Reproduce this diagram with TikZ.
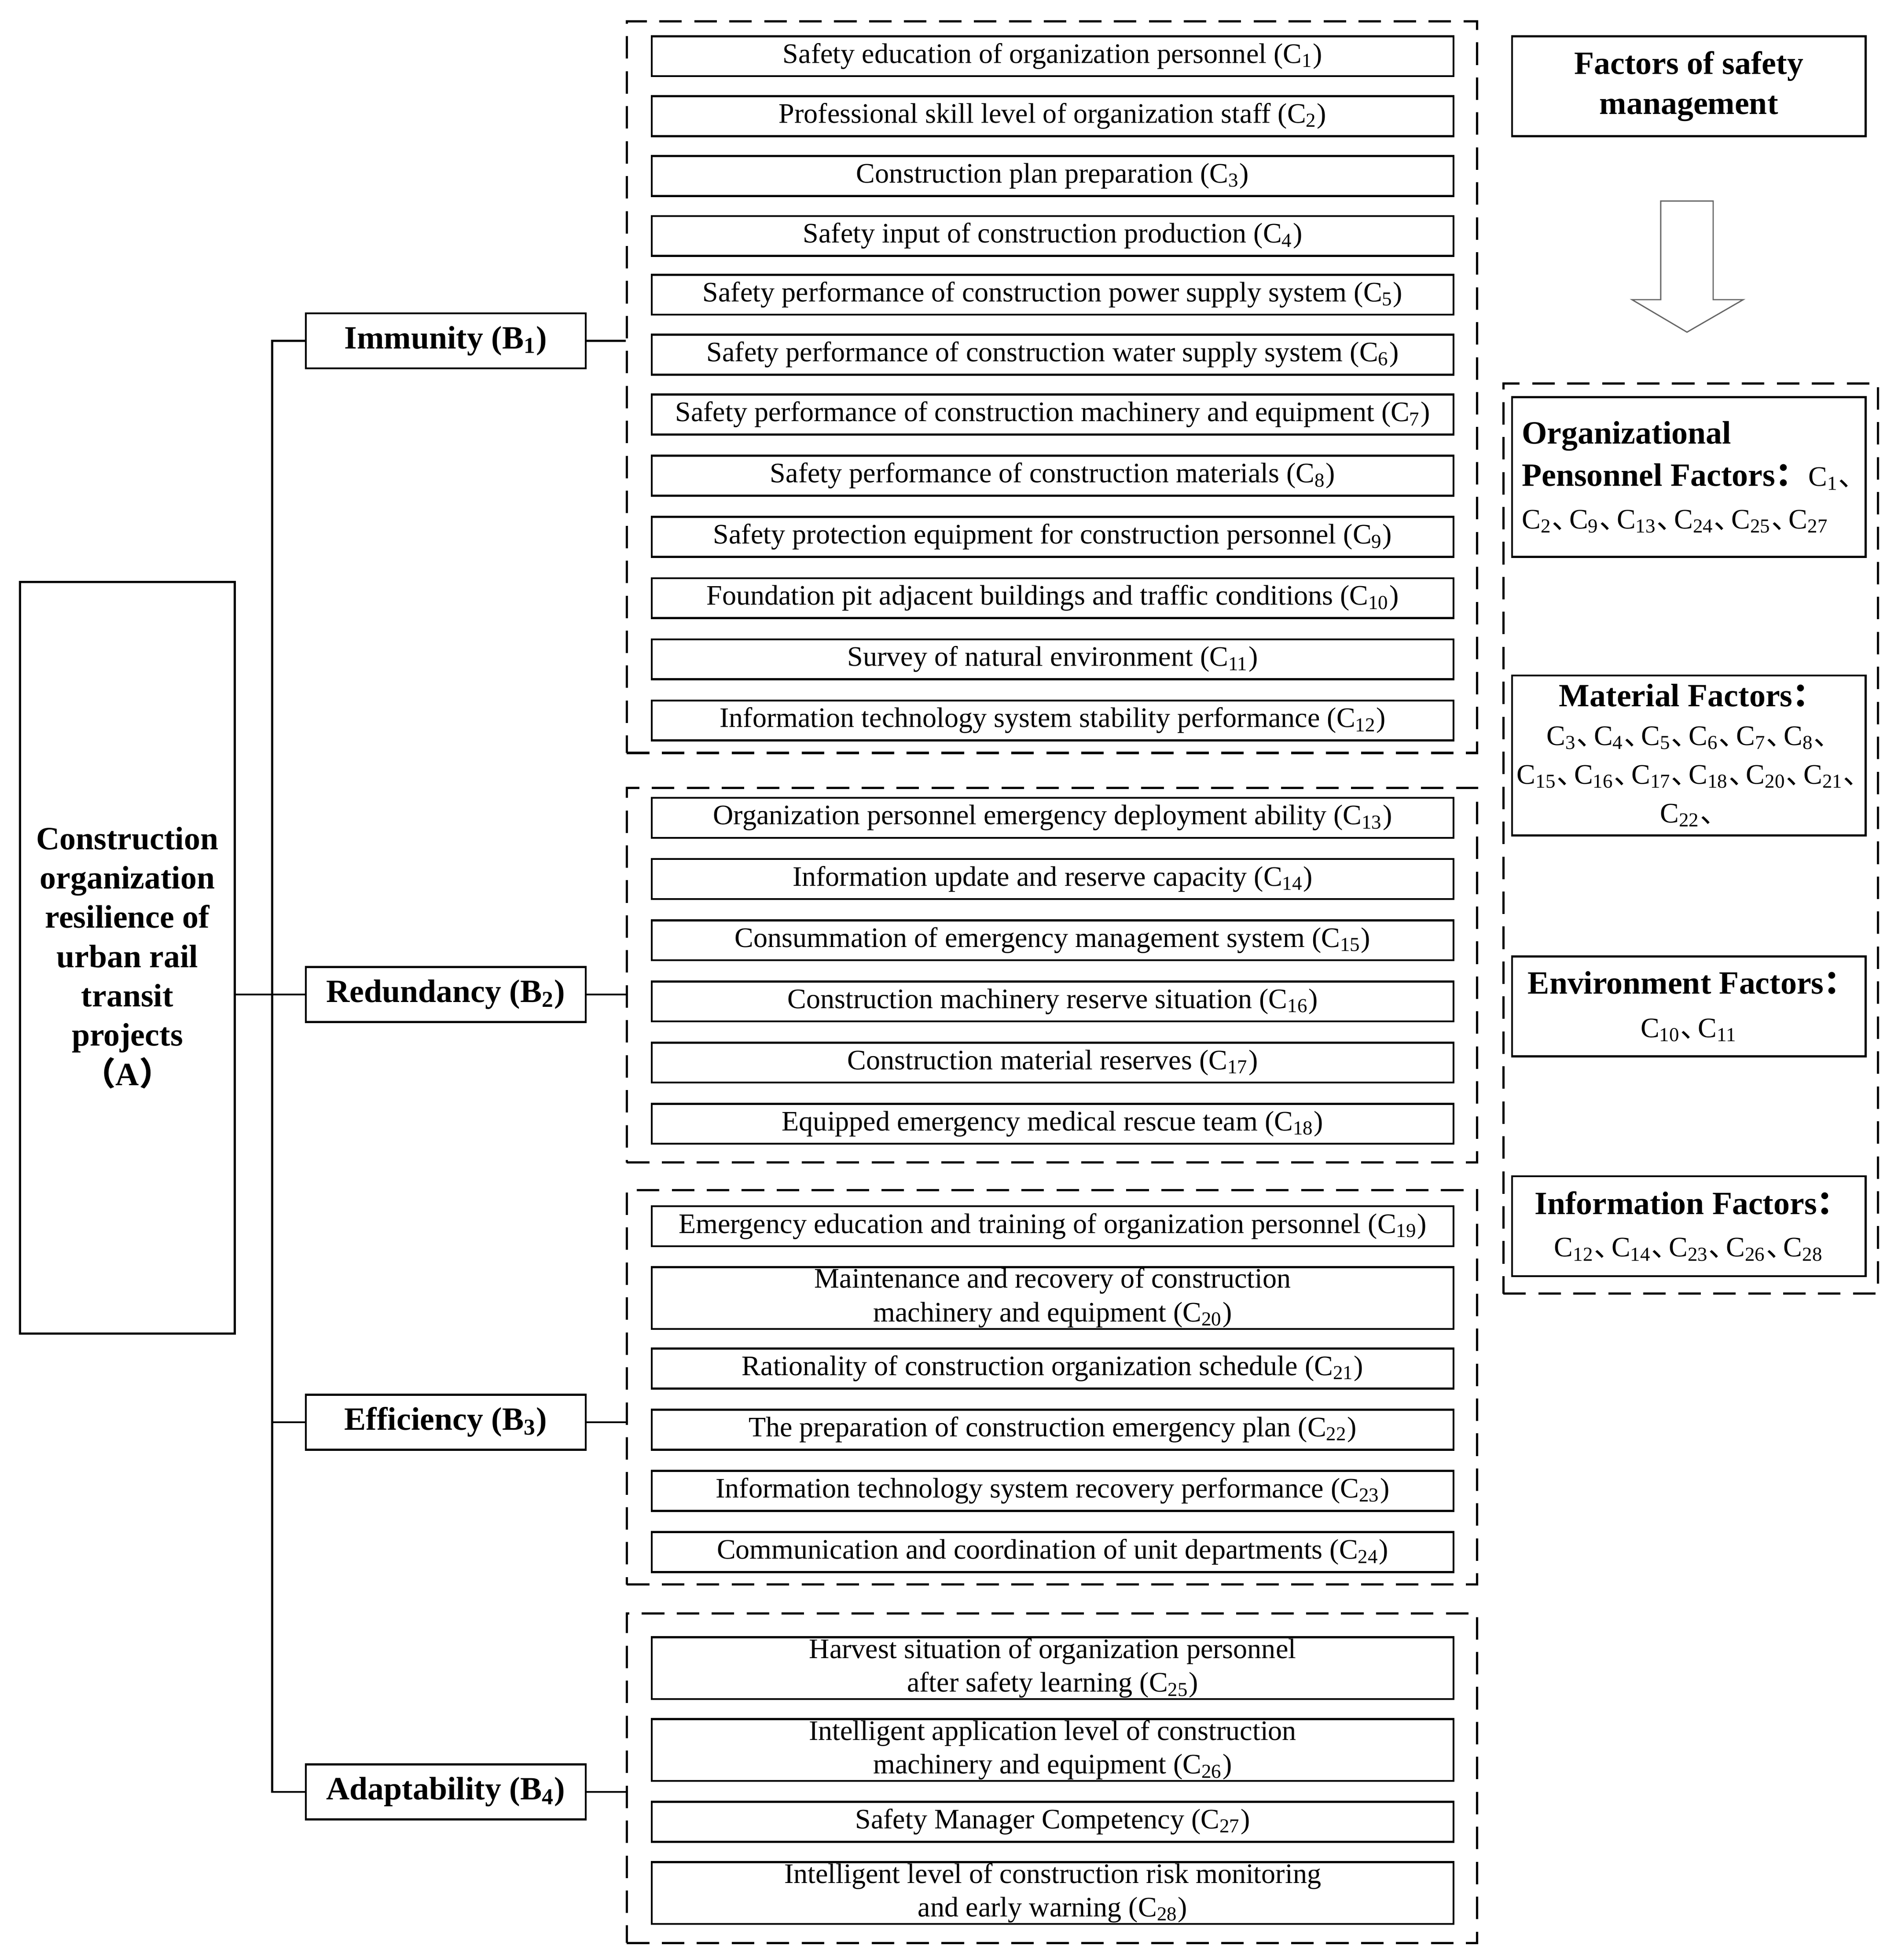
\documentclass[tikz,border=0pt]{standalone}
\usepackage{fontspec}
\setmainfont{Liberation Serif}
\newfontfamily\cjk{Noto Sans CJK SC}
\usetikzlibrary{fit}
\newcommand{\Csub}[1]{C\textsubscript{#1}}
\newcommand{\dun}{\makebox[0.62em][l]{\cjk 、}}
\newcommand{\fcolon}{\makebox[0.8em][l]{\cjk ：}}
\begin{document}
\begin{tikzpicture}[x=0.5pt,y=-0.5pt,
  cbox/.style={draw, line width=0.8pt, minimum width=321pt, minimum height=16pt, inner xsep=2pt, inner ysep=0pt, align=center, font=\fontsize{11.3}{13.5}\selectfont},
  tbox/.style={cbox, minimum height=24.75pt},
  bnode/.style={draw, line width=0.8pt, minimum width=112pt, minimum height=22pt, inner sep=0pt, font=\bfseries\fontsize{13}{15}\selectfont},
  gbox/.style={draw, line width=0.9pt, dash pattern=on 9pt off 5pt, inner sep=0pt},
  rbox/.style={draw, line width=0.8pt, minimum width=141.5pt, inner sep=0pt, align=center, font=\fontsize{11.3}{17}\selectfont},
  conn/.style={line width=0.8pt},
]
\useasboundingbox[fill=white] (0,0) rectangle (1520,1569.7);

% root
\node[draw, line width=0.8pt, minimum width=86pt, minimum height=301pt, inner sep=0pt, align=center, font=\bfseries\fontsize{13}{15.75}\selectfont] (A) at (102,767)
 {Construction\\organization\\resilience of\\urban rail\\transit\\projects\\{\cjk （}A{\cjk ）}};

% criteria
\node[bnode] (b1) at (357,273) {Immunity (B\textsubscript{1})};
\node[bnode] (b2) at (357,796.5) {Redundancy (B\textsubscript{2})};
\node[bnode] (b3) at (357,1139) {Efficiency (B\textsubscript{3})};
\node[bnode] (b4) at (357,1435) {Adaptability (B\textsubscript{4})};

% groups
\node[gbox, fit={(502,17) (1183,603)}] (g1) {};
\node[gbox, fit={(502,631) (1183,931)}] (g2) {};
\node[gbox, fit={(502,953) (1183,1269)}] (g3) {};
\node[gbox, fit={(502,1292) (1183,1556)}] (g4) {};

% indicators
\node[cbox] (c1) at (843,45) {Safety education of organization personnel (\Csub{1})};
\node[cbox] (c2) at (843,93) {Professional skill level of organization staff (\Csub{2})};
\node[cbox] (c3) at (843,141) {Construction plan preparation (\Csub{3})};
\node[cbox] (c4) at (843,189) {Safety input of construction production (\Csub{4})};
\node[cbox] (c5) at (843,236) {Safety performance of construction power supply system (\Csub{5})};
\node[cbox] (c6) at (843,284) {Safety performance of construction water supply system (\Csub{6})};
\node[cbox] (c7) at (843,332) {Safety performance of construction machinery and equipment (\Csub{7})};
\node[cbox] (c8) at (843,381) {Safety performance of construction materials (\Csub{8})};
\node[cbox] (c9) at (843,430) {Safety protection equipment for construction personnel (\Csub{9})};
\node[cbox] (c10) at (843,479) {Foundation pit adjacent buildings and traffic conditions (\Csub{10})};
\node[cbox] (c11) at (843,528) {Survey of natural environment (\Csub{11})};
\node[cbox] (c12) at (843,577) {Information technology system stability performance (\Csub{12})};

\node[cbox] (c13) at (843,655) {Organization personnel emergency deployment ability (\Csub{13})};
\node[cbox] (c14) at (843,704) {Information update and reserve capacity (\Csub{14})};
\node[cbox] (c15) at (843,753) {Consummation of emergency management system (\Csub{15})};
\node[cbox] (c16) at (843,802) {Construction machinery reserve situation (\Csub{16})};
\node[cbox] (c17) at (843,851) {Construction material reserves (\Csub{17})};
\node[cbox] (c18) at (843,900) {Equipped emergency medical rescue team (\Csub{18})};

\node[cbox] (c19) at (843,982) {Emergency education and training of organization personnel (\Csub{19})};
\node[tbox] (c20) at (843,1039.5) {Maintenance and recovery of construction\\machinery and equipment (\Csub{20})};
\node[cbox] (c21) at (843,1096) {Rationality of construction organization schedule (\Csub{21})};
\node[cbox] (c22) at (843,1145) {The preparation of construction emergency plan (\Csub{22})};
\node[cbox] (c23) at (843,1194) {Information technology system recovery performance (\Csub{23})};
\node[cbox] (c24) at (843,1243) {Communication and coordination of unit departments (\Csub{24})};

\node[tbox] (c25) at (843,1336) {Harvest situation of organization personnel\\after safety learning (\Csub{25})};
\node[tbox] (c26) at (843,1401.5) {Intelligent application level of construction\\machinery and equipment (\Csub{26})};
\node[cbox] (c27) at (843,1459) {Safety Manager Competency (\Csub{27})};
\node[tbox] (c28) at (843,1516) {Intelligent level of construction risk monitoring\\and early warning (\Csub{28})};

% connectors
\coordinate (bus) at (218,0);
\draw[conn] (b1.west) -- (b1.west -| bus) -- (b4.west -| bus) -- (b4.west);
\draw[conn] (b3.west) -- (b3.west -| bus);
\draw[conn] (A.east |- b2.west) -- (b2.west);
\draw[conn] (b1.east) -- (b1.east -| g1.west);
\draw[conn] (b2.east) -- (b2.east -| g2.west);
\draw[conn] (b3.east) -- (b3.east -| g3.west);
\draw[conn] (b4.east) -- (b4.east -| g4.west);

% right panel
\node[rbox, minimum height=40pt, font=\bfseries\fontsize{13}{16}\selectfont] (tf) at (1352.5,69) {Factors of safety\\management};
\draw[line width=0.5pt, draw=black!60] (1330,161) -- (1372,161) -- (1372,240) -- (1396,240) -- (1351,266) -- (1307,240) -- (1330,240) -- cycle;
\node[gbox, fit={(1204,307) (1504,1036)}] (rg) {};
\node[rbox, minimum height=64pt, align=left] (org) at (1352.5,382)
 {{\bfseries\fontsize{13}{17}\selectfont Organizational}\\
  {\bfseries\fontsize{13}{17}\selectfont Pensonnel Factors\fcolon}\ \Csub{1}\dun\\
  \Csub{2}\dun\Csub{9}\dun\Csub{13}\dun\Csub{24}\dun\Csub{25}\dun\Csub{27}};
\node[rbox, minimum height=64pt, font=\fontsize{11.3}{15.5}\selectfont] (mat) at (1352.5,605)
 {{\bfseries\fontsize{13}{15.5}\selectfont Material Factors\fcolon}\\
  \Csub{3}\dun\Csub{4}\dun\Csub{5}\dun\Csub{6}\dun\Csub{7}\dun\Csub{8}\dun\\
  \Csub{15}\dun\Csub{16}\dun\Csub{17}\dun\Csub{18}\dun\Csub{20}\dun\Csub{21}\dun\\
  \Csub{22}\dun};
\node[rbox, minimum height=40pt, font=\fontsize{11.3}{17.5}\selectfont] (env) at (1352.5,806)
 {{\bfseries\fontsize{13}{17.5}\selectfont Environment Factors\fcolon}\\
  \Csub{10}\dun\Csub{11}};
\node[rbox, minimum height=40pt] (inf) at (1352.5,982)
 {{\bfseries\fontsize{13}{17}\selectfont Information Factors\fcolon}\\
  \Csub{12}\dun\Csub{14}\dun\Csub{23}\dun\Csub{26}\dun\Csub{28}};
\end{tikzpicture}
\end{document}
